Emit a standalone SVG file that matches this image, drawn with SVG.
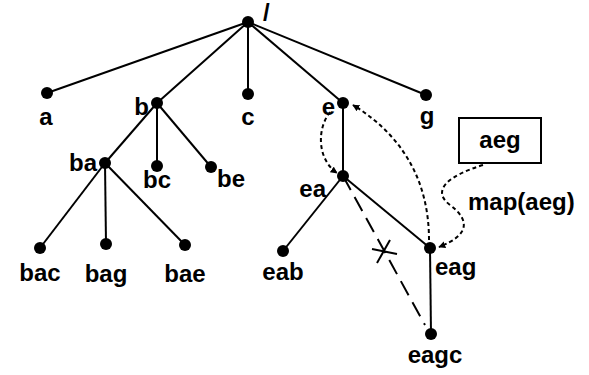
<svg xmlns="http://www.w3.org/2000/svg" width="589" height="375" viewBox="0 0 589 375">
<style>
.e{stroke:#000;stroke-width:2;fill:none}
.n{fill:#000}
text{font-family:"Liberation Sans",Arial,sans-serif;font-weight:bold;font-size:24px;fill:#000}
.m{text-anchor:middle}
.r{text-anchor:end}
.d{stroke:#000;stroke-width:2;fill:none;stroke-dasharray:4 3}
.ld{stroke:#000;stroke-width:2;fill:none;stroke-dasharray:16 8}
</style>
<defs>
<marker id="ah" viewBox="0 0 10 10" refX="9" refY="5" markerWidth="7" markerHeight="7" markerUnits="userSpaceOnUse" orient="auto"><path d="M0,0 L10,5 L0,10 z" fill="#000"/></marker>
</defs>
<g id="connectors">
<line class="e" x1="248" y1="22" x2="47" y2="93"/>
<line class="e" x1="248" y1="22" x2="157" y2="103"/>
<line class="e" x1="248" y1="22" x2="248" y2="94"/>
<line class="e" x1="248" y1="22" x2="343" y2="103"/>
<line class="e" x1="248" y1="22" x2="426" y2="95"/>
<line class="e" x1="157" y1="103" x2="105" y2="163"/>
<line class="e" x1="157" y1="103" x2="157" y2="166"/>
<line class="e" x1="157" y1="103" x2="211" y2="167"/>
<line class="e" x1="105" y1="163" x2="40" y2="248"/>
<line class="e" x1="105" y1="163" x2="106" y2="244"/>
<line class="e" x1="105" y1="163" x2="185" y2="245"/>
<line class="e" x1="343" y1="103" x2="343" y2="176"/>
<line class="e" x1="343" y1="176" x2="283" y2="251"/>
<line class="e" x1="343" y1="176" x2="430" y2="248"/>
<line class="e" x1="430" y1="248" x2="431" y2="334"/>
<line class="ld" x1="343" y1="176" x2="425" y2="325"/>
<line class="e" stroke-width="1.5" x1="372" y1="249" x2="397" y2="254"/>
<line class="e" stroke-width="1.5" x1="377" y1="263" x2="390" y2="240"/>
<path class="d" d="M429 240 C429 190 410 140 353 105" marker-end="url(#ah)"/>
<path class="d" d="M330 112 C316 130 318 160 337 173" marker-end="url(#ah)"/>
<path class="d" d="M483 165 C450 175 430 190 450 205 S470 235 439 247" marker-end="url(#ah)"/>
</g>
<g id="root"><circle class="n" cx="248" cy="22" r="6"/><text x="263" y="21" font-size="18">/</text></g>
<g id="a"><circle class="n" cx="47" cy="93" r="6"/><text class="m" x="46" y="125">a</text></g>
<g id="b"><circle class="n" cx="157" cy="103" r="6"/><text class="r" x="149" y="115">b</text></g>
<g id="c"><circle class="n" cx="248" cy="94" r="6"/><text class="m" x="248" y="125">c</text></g>
<g id="e"><circle class="n" cx="343" cy="103" r="6"/><text class="r" x="335" y="115">e</text></g>
<g id="g"><circle class="n" cx="426" cy="95" r="6"/><text class="m" x="427" y="124">g</text></g>
<g id="ba"><circle class="n" cx="105" cy="163" r="6"/><text class="r" x="97" y="171">ba</text></g>
<g id="bc"><circle class="n" cx="157" cy="166" r="6"/><text class="m" x="157" y="188">bc</text></g>
<g id="be"><circle class="n" cx="211" cy="167" r="6"/><text x="217" y="187">be</text></g>
<g id="bac"><circle class="n" cx="40" cy="248" r="6"/><text class="m" x="40" y="281">bac</text></g>
<g id="bag"><circle class="n" cx="106" cy="244" r="6"/><text class="m" x="106" y="282">bag</text></g>
<g id="bae"><circle class="n" cx="185" cy="245" r="6"/><text class="m" x="185" y="282">bae</text></g>
<g id="ea"><circle class="n" cx="343" cy="176" r="6"/><text class="r" x="326" y="197">ea</text></g>
<g id="eab"><circle class="n" cx="283" cy="251" r="6"/><text class="m" x="283" y="280">eab</text></g>
<g id="eag"><circle class="n" cx="430" cy="248" r="6"/><text x="435" y="275">eag</text></g>
<g id="eagc"><circle class="n" cx="431" cy="334" r="6"/><text class="m" x="435" y="363">eagc</text></g>
<g id="aeg"><rect x="459" y="118" width="82" height="45" fill="#fff" stroke="#000" stroke-width="2"/><text class="m" x="500" y="148">aeg</text></g>
<g id="map"><text x="468" y="210">map(aeg)</text></g>
</svg>
